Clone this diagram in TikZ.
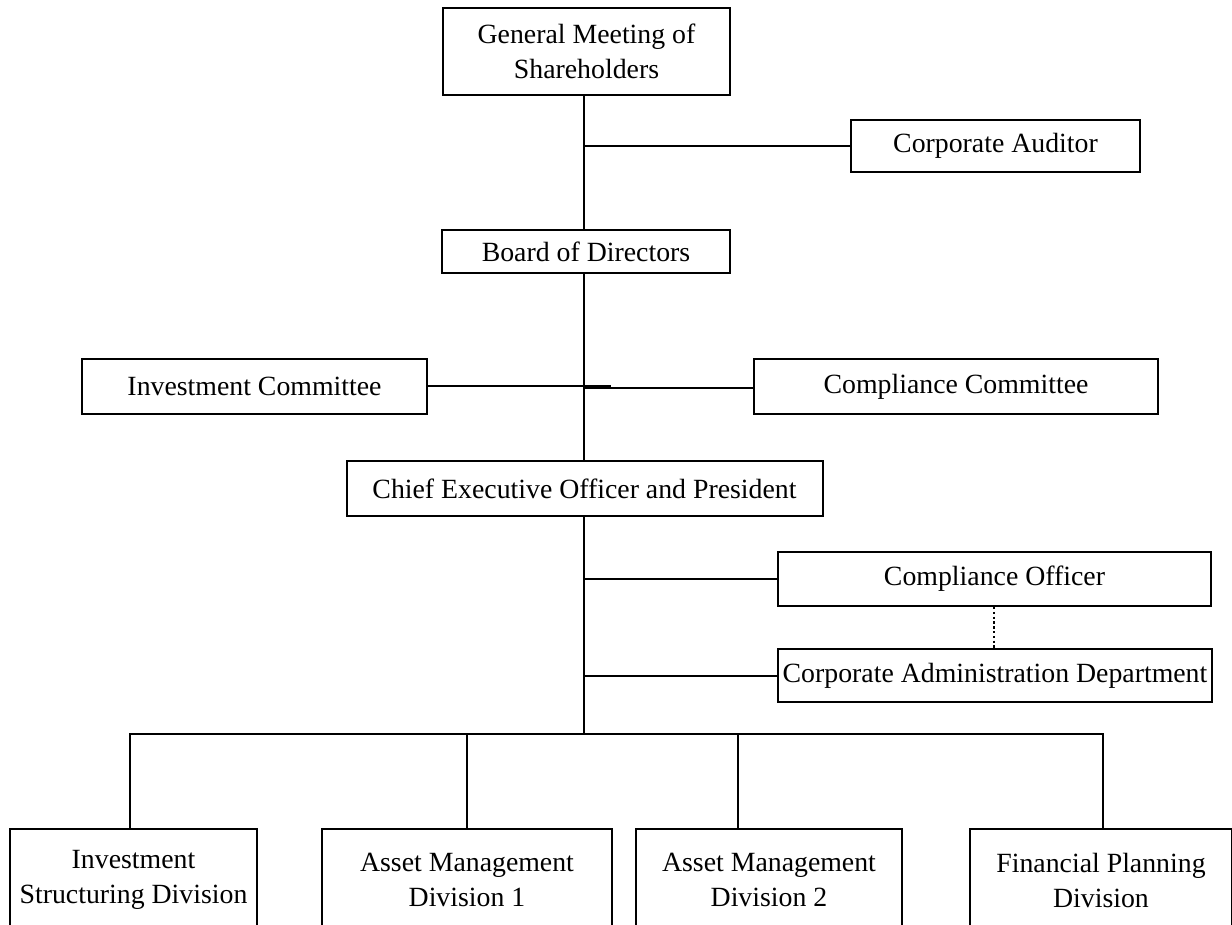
\documentclass[tikz,border=0pt]{standalone}
\usepackage{fontspec}
\setmainfont{Liberation Serif}
\begin{document}
\begin{tikzpicture}[x=0.5pt,y=-0.5pt,
  box/.style={draw, line width=1pt, inner sep=0pt, align=center,
    font=\fontsize{13.9}{17.5}\selectfont},
  sz/.style 2 args={minimum width=#1*0.5pt, minimum height=#2*0.5pt},
  link/.style={draw, line width=1pt},
  dotlink/.style={draw, line width=1.4pt, dash pattern=on 1.2pt off 1.2pt}]
\clip (0,0) rectangle (1232,925);
\fill[white] (0,0) rectangle (1232,925);
\coordinate (t) at (584,0);
% boxes
\node[box, sz={287}{87}] (gms) at (586.5,51.5) {General Meeting of\\Shareholders};
\node[box, sz={289}{52}] (ca) at (995.5,146) {Corporate Auditor};
\node[box, sz={288}{43}] (bod) at (586,251.5) {Board of Directors};
\node[box, sz={345}{55}] (ic) at (254.5,386.5) {Investment Committee};
\node[box, sz={404}{55}] (cc) at (956,386.5) {Compliance Committee};
\node[box, sz={476}{55}] (ceo) at (584.5,488.5) {Chief Executive Officer and President};
\node[box, sz={433}{54}] (co) at (994.5,579) {Compliance Officer};
\node[box, sz={434}{53}] (cad) at (995,675.5) {Corporate Administration Department};
\node[box, sz={247}{102}] (isd) at (133.5,880) {Investment\\Structuring Division};
\node[box, sz={290}{102}] (am1) at (467,880) {Asset Management\\Division 1};
\node[box, sz={266}{102}] (am2) at (769,880) {Asset Management\\Division 2};
\node[box, sz={262}{102}] (fp) at (1101,880) {Financial Planning\\Division};
% connectors
\coordinate (bus) at (584,734);
\coordinate (icend) at (611,386);
\path[link] (t |- gms.south) -- (t |- bod.north);
\path[link] (t |- ca.west) -- (ca.west);
\path[link] (t |- bod.south) -- (t |- ceo.north);
\path[link] ([yshift=0.25pt]ic.east) -- (icend);
\path[link] ([yshift=-0.5pt]t |- cc.west) -- ([yshift=-0.5pt]cc.west);
\path[link] (t |- ceo.south) -- (bus);
\path[link] (t |- co.west) -- (co.west);
\path[link] (t |- cad.west) -- (cad.west);
\path[dotlink] (994,0 |- co.south) -- (994,0 |- cad.north);
\coordinate (bl) at (130,734);
\coordinate (br) at (1103,734);
\path[link] ([xshift=-0.5pt]bl) -- ([xshift=0.5pt]br);
\path[link] (bl) -- (bl |- isd.north);
\path[link] (467,734) -- (467,0 |- am1.north);
\path[link] (738,734) -- (738,0 |- am2.north);
\path[link] (br) -- (br |- fp.north);
\end{tikzpicture}
\end{document}
